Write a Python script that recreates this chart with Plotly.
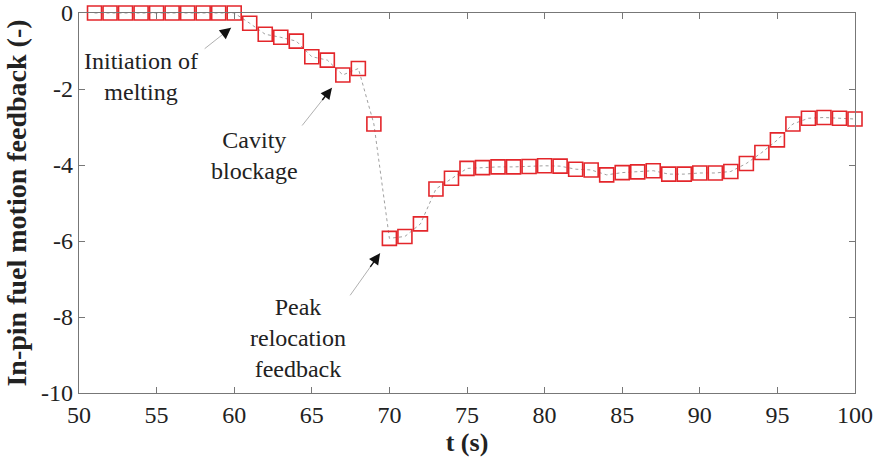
import plotly.graph_objects as go

t = list(range(51, 101))
feedback = [0, 0, 0, 0, 0, 0, 0, 0, 0, 0,
            -0.27, -0.56, -0.64, -0.74, -1.15, -1.24, -1.63, -1.46, -2.92, -5.93,
            -5.88, -5.55, -4.63, -4.35, -4.09, -4.07, -4.05, -4.05, -4.04, -4.02,
            -4.03, -4.11, -4.13, -4.26, -4.20, -4.18, -4.15, -4.24, -4.24, -4.21,
            -4.21, -4.17, -3.96, -3.67, -3.34, -2.92, -2.77, -2.75, -2.77, -2.79]

x_ticks = [50, 55, 60, 65, 70, 75, 80, 85, 90, 95, 100]
y_ticks = [0, -2, -4, -6, -8, -10]
y_tick_labels = ["0", "-2", "-4", "-6", "-8", "-10"]

note_texts = ["Initiation of<br>melting", "Cavity<br>blockage", "Peak<br>relocation<br>feedback"]
note_x = [54.0, 61.3, 64.1]
note_y = [-1.68, -3.74, -8.55]
arrow_head_x = [59.8, 66.3, 69.4]
arrow_head_y = [-0.39, -1.97, -6.32]
arrow_tail_x = [58.0, 64.3, 67.4]
arrow_tail_y = [-0.97, -3.0, -7.47]

FONT = "Liberation Serif"

fig = go.Figure()
fig.add_trace(go.Scatter(
    x=t, y=feedback, mode="lines+markers",
    line=dict(color="#a0a0a0", width=1, dash="dot"),
    marker=dict(symbol="square-open", size=14, color="#e3262b", line=dict(width=1.6, color="#e3262b")),
    cliponaxis=False, showlegend=False,
))

annotations = []
for txt, nx, ny in zip(note_texts, note_x, note_y):
    annotations.append(dict(x=nx, y=ny, xref="x", yref="y", text=txt, showarrow=False,
                            font=dict(family=FONT, size=24, color="#222"), align="center"))
for hx, hy, tx, ty in zip(arrow_head_x, arrow_head_y, arrow_tail_x, arrow_tail_y):
    annotations.append(dict(x=hx, y=hy, ax=tx, ay=ty, xref="x", yref="y", axref="x", ayref="y",
                            text="", showarrow=True, arrowhead=0, arrowwidth=1, arrowcolor="#b0b0b0"))
    annotations.append(dict(x=hx, y=hy, ax=hx + (tx - hx) * 0.35, ay=hy + (ty - hy) * 0.35,
                            xref="x", yref="y", axref="x", ayref="y",
                            text="", showarrow=True, arrowhead=2, arrowsize=1.6, arrowwidth=1.4,
                            arrowcolor="#111"))

fig.update_layout(
    width=880, height=461,
    margin=dict(l=79, r=25, t=13, b=68, autoexpand=False),
    paper_bgcolor="white", plot_bgcolor="white",
    font=dict(family=FONT, size=24, color="#222"),
    annotations=annotations,
)
fig.update_xaxes(range=[50, 100], tickvals=x_ticks, ticks="inside", ticklen=6, tickcolor="#777",
                 showline=True, linecolor="#777", linewidth=1.2, mirror="ticks", showgrid=False,
                 zeroline=False, tickfont=dict(family=FONT, size=24), automargin=False,
                 title=dict(text="<b>t (s)</b>", font=dict(family=FONT, size=26), standoff=4))
fig.update_yaxes(range=[-10, 0], tickvals=y_ticks, ticktext=y_tick_labels, ticks="inside", ticklen=6,
                 tickcolor="#777", showline=True, linecolor="#777", linewidth=1.2, mirror="ticks",
                 showgrid=False, zeroline=False, tickfont=dict(family=FONT, size=24), automargin=False,
                 title=dict(text="<b>In-pin fuel motion feedback (-)</b>", font=dict(family=FONT, size=28),
                            standoff=6))

fig.write_html("out.html", config={"displayModeBar": False},
               post_script="document.body.style.margin='0';")
